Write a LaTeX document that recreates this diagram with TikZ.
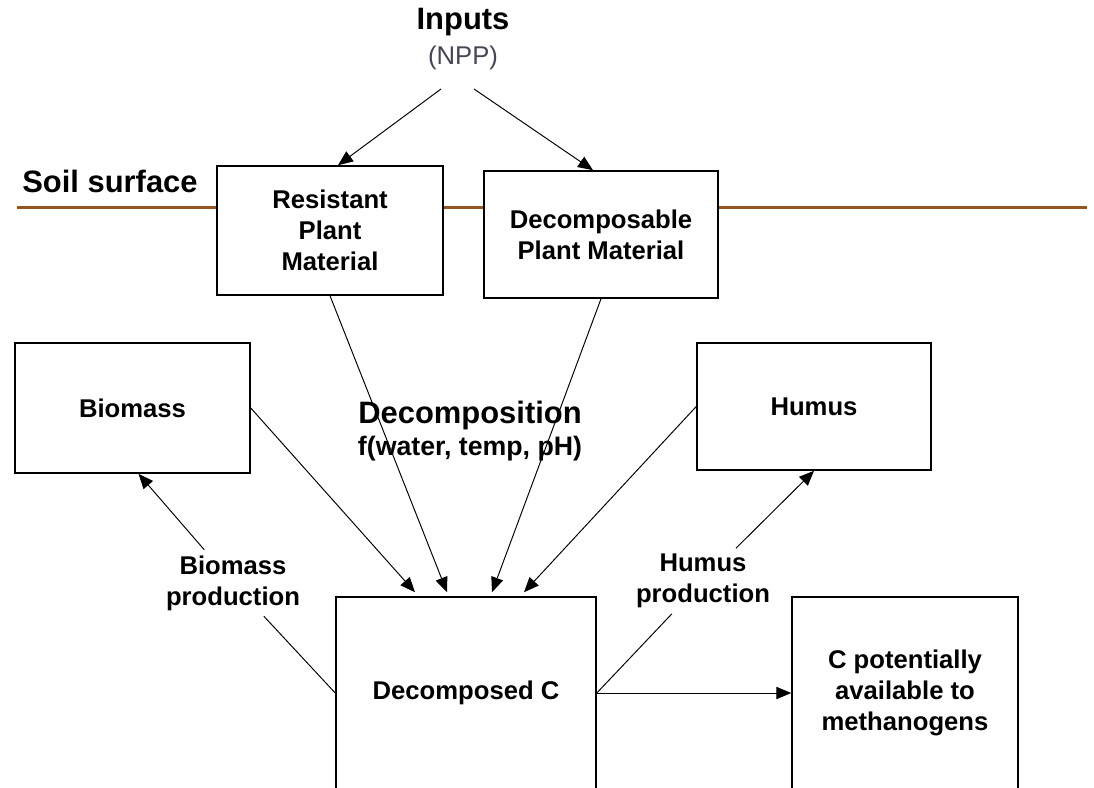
\documentclass[tikz,border=0pt]{standalone}
\usepackage{fontspec}
\setmainfont{Liberation Sans}
\usepackage{xcolor}
\usetikzlibrary{arrows.meta,calc,positioning}
\definecolor{soilbrown}{RGB}{150,85,30}
\definecolor{nppgray}{RGB}{70,70,85}
\newcommand{\boxfont}{\bfseries\fontsize{14.6}{17.8}\selectfont}

\begin{document}
\begin{tikzpicture}[x=0.02cm, y=-0.02cm,
    box/.style={draw, line width=0.9pt, fill=white, align=center, font=\boxfont},
    lbl/.style={align=center, font=\boxfont, inner sep=3pt},
    big/.style={font=\bfseries\fontsize{17.6}{21}\selectfont},
    arr/.style={-{Triangle[length=8.5pt,width=7pt]}, line width=0.55pt},
    plain/.style={line width=0.55pt},
    soil/.style={draw=soilbrown, line width=1.3pt}]
    \useasboundingbox (0,0) rectangle (1094,787);

    \draw[soil] (17,207.5) -- (1087,207.5);

    \node[big] (inputs) at (463,22) {Inputs};
    \node[font=\fontsize{14.6}{17.8}\selectfont, text=nppgray] (npp) at (463,58) {(NPP)};
    \node[big] (soiltxt) at (110,181) {Soil surface};

    \node[box, minimum width=4.52cm, minimum height=2.58cm] (res) at (330,230.5) {Resistant\\Plant\\Material};
    \node[box, minimum width=4.68cm, minimum height=2.54cm] (dcp) at (601,234.5) {Decomposable\\Plant Material};
    \node[box, minimum width=4.7cm, minimum height=2.6cm] (bio) at (132.5,408) {Biomass};
    \node[box, minimum width=4.68cm, minimum height=2.54cm] (hum) at (814,406.5) {Humus};
    \node[box, minimum width=5.2cm, minimum height=3.84cm] (dec) at (466,693) {Decomposed C};
    \node[box, minimum width=4.52cm, minimum height=3.84cm] (cpot) at (905,693) {C potentially\\available to\\methanogens};

    \node[big] (decomp) at (470,416) {Decomposition};
    \node[font=\bfseries\fontsize{15.2}{18}\selectfont] (fpar) at (470,449) {f(water, temp, pH)};
    \node[lbl] (bprod) at (233,583) {Biomass\\production};
    \node[lbl] (hprod) at (703,581) {Humus\\production};

    \coordinate (inL) at (441,89);
    \coordinate (inR) at (474,89);

    \draw[arr] (inL) -- ($(res.north)+(8,0)$);
    \draw[arr] (inR) -- ($(dcp.north)+(-8,0)$);
    \draw[arr] (bio.east) -- ($(dec.north)+(-51,-4)$);
    \draw[arr] (res.south) -- ($(dec.north)+(-19,-4)$);
    \draw[arr] (dcp.south) -- ($(dec.north)+(26,-4)$);
    \draw[arr] (hum.west) -- ($(dec.north)+(58,-4)$);
    \draw[plain] (dec.west) -- (bprod);
    \draw[arr] (bprod) -- ($(bio.south)+(6,0)$);
    \draw[plain] (dec.east) -- (hprod);
    \draw[arr] (hprod) -- (hum.south);
    \draw[arr] (dec.east) -- (cpot.west);
\end{tikzpicture}
\end{document}
